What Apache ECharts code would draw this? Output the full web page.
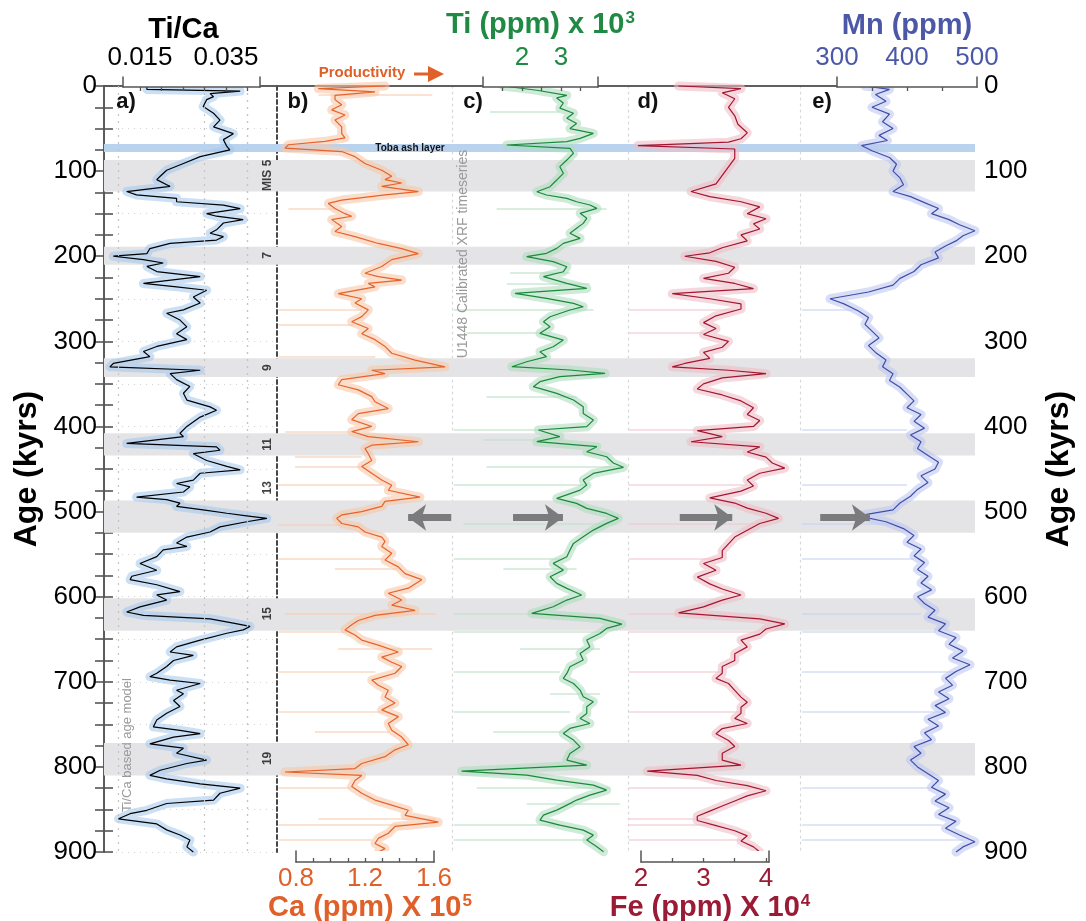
<!DOCTYPE html>
<html><head><meta charset="utf-8">
<script src="https://cdn.jsdelivr.net/npm/echarts@6/dist/echarts.min.js"></script>
<style>html,body{margin:0;padding:0;background:#fff}#c{width:1086px;height:921px}</style>
</head><body><div id="c"></div>
<script>
// ---------- DATA (age kyr, value) ----------
const tiCa = [[0,0.0166],[4,0.0166],[6,0.0383],[9,0.0313],[12.5,0.0321],[16,0.0305],[24,0.0297],[32,0.0321],[40,0.0336],[48,0.0321],[56,0.0367],[63,0.0344],[71,0.0352],[75,0.0359],[83,0.0290],[91,0.0251],[99,0.0212],[106,0.0197],[110,0.0189],[118,0.0220],[124,0.0119],[128,0.0142],[132,0.0235],[136,0.0235],[140,0.0344],[144,0.0383],[150,0.0305],[153,0.0328],[157,0.0390],[161,0.0344],[169,0.0328],[173,0.0313],[177,0.0344],[181,0.0328],[185,0.0220],[191,0.0173],[197,0.0166],[200,0.0088],[204,0.0158],[208,0.0204],[212,0.0166],[218,0.0189],[224,0.0290],[232,0.0158],[236,0.0235],[240,0.0305],[248,0.0274],[255,0.0290],[263,0.0251],[267,0.0212],[275,0.0243],[283,0.0259],[291,0.0235],[298,0.0259],[306,0.0189],[312,0.0158],[318,0.0173],[326,0.0088],[330,0.0080],[334,0.0290],[338,0.0220],[345,0.0235],[353,0.0266],[361,0.0251],[369,0.0259],[377,0.0313],[381,0.0328],[389,0.0290],[400,0.0259],[408,0.0243],[412,0.0251],[420,0.0119],[424,0.0328],[428,0.0336],[432,0.0274],[440,0.0305],[447,0.0352],[451,0.0383],[455,0.0290],[463,0.0274],[467,0.0235],[471,0.0266],[477,0.0251],[483,0.0142],[486,0.0212],[490,0.0243],[494,0.0235],[498,0.0297],[502,0.0352],[505,0.0398],[508,0.0445],[512,0.0398],[518,0.0336],[524,0.0313],[530,0.0259],[537,0.0235],[541,0.0259],[545,0.0204],[553,0.0189],[561,0.0150],[569,0.0189],[576,0.0131],[580,0.0127],[586,0.0189],[594,0.0243],[598,0.0189],[604,0.0212],[612,0.0150],[618,0.0119],[622,0.0158],[626,0.0313],[631,0.0367],[635,0.0406],[639,0.0390],[643,0.0352],[651,0.0290],[659,0.0235],[665,0.0220],[669,0.0274],[675,0.0228],[682,0.0212],[690,0.0189],[694,0.0173],[698,0.0220],[702,0.0290],[710,0.0235],[714,0.0251],[722,0.0228],[729,0.0243],[737,0.0212],[745,0.0189],[753,0.0181],[757,0.0243],[761,0.0290],[765,0.0228],[773,0.0173],[778,0.0251],[784,0.0235],[792,0.0305],[796,0.0259],[804,0.0197],[810,0.0173],[814,0.0212],[820,0.0290],[825,0.0383],[831,0.0336],[839,0.0321],[843,0.0212],[851,0.0166],[855,0.0127],[861,0.0100],[867,0.0189],[874,0.0212],[880,0.0243],[886,0.0266],[894,0.0259],[900,0.0274]];

const ca = [[0,1.316],[3,0.929],[7,1.258],[11,1.026],[16,1.026],[22,1.065],[28,1.007],[34,1.084],[40,1.026],[48,1.065],[56,1.065],[61,1.084],[65,0.968],[69,0.756],[73,0.736],[77,1.065],[83,1.142],[91,1.200],[99,1.297],[106,1.355],[110,1.316],[114,1.413],[118,1.297],[124,1.509],[128,1.316],[134,1.065],[138,0.987],[144,1.026],[150,1.084],[153,1.123],[157,1.007],[165,1.065],[171,1.026],[177,1.142],[185,1.277],[191,1.413],[197,1.509],[204,1.355],[212,1.297],[220,1.200],[224,1.277],[228,1.413],[232,1.219],[236,1.258],[244,1.045],[250,1.181],[255,1.142],[263,1.219],[271,1.181],[277,1.123],[285,1.219],[291,1.181],[298,1.258],[306,1.316],[314,1.355],[322,1.490],[330,1.664],[334,1.239],[338,1.316],[345,1.065],[351,1.045],[357,1.161],[365,1.239],[371,1.258],[379,1.335],[385,1.161],[392,1.123],[400,1.239],[406,1.123],[412,1.219],[418,1.509],[422,1.239],[426,1.200],[432,1.219],[440,1.239],[447,1.181],[455,1.239],[463,1.297],[469,1.355],[475,1.335],[483,1.519],[488,1.316],[494,1.297],[500,1.181],[504,1.065],[508,1.036],[514,1.065],[518,1.161],[524,1.200],[530,1.297],[535,1.316],[541,1.297],[549,1.355],[557,1.316],[565,1.393],[573,1.432],[580,1.529],[590,1.451],[596,1.335],[604,1.413],[610,1.355],[616,1.490],[622,1.258],[628,1.161],[633,1.123],[639,1.084],[645,1.142],[651,1.181],[657,1.277],[665,1.393],[671,1.297],[677,1.355],[682,1.413],[690,1.374],[698,1.239],[704,1.277],[710,1.335],[718,1.316],[725,1.374],[733,1.297],[741,1.393],[749,1.335],[757,1.355],[765,1.413],[774,1.451],[780,1.374],[788,1.316],[796,1.181],[802,1.142],[806,0.736],[810,1.181],[816,1.142],[823,1.123],[831,1.181],[839,1.258],[845,1.355],[851,1.451],[857,1.432],[865,1.625],[870,1.374],[878,1.335],[884,1.277],[890,1.258],[896,1.316],[900,1.277]];

const ti = [[0,1.52],[5,2.38],[11,3.15],[14,2.89],[20,3.06],[26,2.97],[32,3.32],[38,3.15],[44,3.40],[50,3.23],[55.6,3.83],[61.5,3.49],[65.4,3.15],[69.3,1.61],[73.2,3.23],[79,3.32],[87,3.15],[94.8,2.97],[102.6,3.06],[110.5,2.89],[118.3,2.72],[124.2,2.38],[128.1,2.63],[132,3.15],[136,3.40],[139.8,3.74],[143.8,3.92],[149.6,3.49],[155.5,3.66],[161.4,3.57],[167.2,3.40],[173,3.23],[179,3.49],[184.9,3.06],[190.8,2.89],[196.6,2.63],[200.5,2.12],[206.4,2.80],[212.3,3.15],[218.2,3.06],[224,2.55],[231.9,3.15],[237.8,3.66],[243.6,1.82],[249.5,2.63],[255.4,3.32],[259.3,3.57],[263.2,3.23],[271.1,2.72],[277,2.55],[282.8,2.72],[290.6,2.46],[298.5,3.06],[306.3,2.80],[312.2,2.46],[318,2.63],[324,2.12],[329.8,1.74],[333.7,3.23],[337.6,4.13],[341.5,2.97],[347.4,2.46],[353.3,2.29],[361.2,2.89],[369,3.32],[376.8,3.57],[384.7,3.57],[392.5,3.83],[400.3,3.66],[404.2,2.42],[412,2.97],[417.9,2.38],[423.8,3.92],[429.7,3.66],[435.6,4.17],[443,4.34],[448,4.60],[455.2,3.83],[463,3.57],[468.9,3.66],[474.8,3.49],[484.5,2.89],[490.4,3.40],[496.3,3.66],[502.2,4.17],[508,4.47],[513.9,4.17],[521.8,3.83],[529.6,3.57],[537.4,3.32],[545.3,3.23],[553.1,3.15],[560.9,2.80],[568.8,3.06],[576.6,2.72],[584.4,2.89],[590.3,3.15],[598.1,3.53],[604,3.15],[611.8,2.80],[619.7,2.25],[625.6,4.00],[632.2,4.56],[637.3,4.17],[643.2,4.00],[651,3.66],[658.9,3.74],[666.7,3.49],[674.5,3.57],[682.4,3.23],[690.2,3.15],[696.1,3.06],[702,3.32],[709.8,3.49],[717.6,3.57],[723.5,3.83],[729.4,3.66],[737.2,3.66],[743.1,3.49],[749,3.74],[754.8,3.23],[760.7,3.06],[768.5,3.32],[776.4,3.49],[784.2,3.23],[792,3.15],[797.9,3.66],[805,0.45],[809.7,2.12],[815.5,2.89],[821.4,3.83],[827.3,4.17],[833.2,3.74],[839,3.40],[844.9,3.15],[850.8,2.89],[856.7,2.55],[862.5,2.46],[868.4,2.97],[874.3,3.57],[880.2,3.83],[886,3.66],[893.9,3.92],[899.7,4.09]];

const fe = [[0,2.6],[3,3.6],[8,3.3],[15,3.5],[25,3.4],[35,3.5],[45,3.55],[55,3.7],[62,3.6],[66,3.4],[70,1.95],[74,3.5],[85,3.5],[95,3.4],[105,3.3],[115,3.2],[124,2.8],[130,3.1],[136,3.6],[142,3.9],[150,3.7],[156,4.0],[162,3.8],[168,3.9],[175,3.6],[182,3.7],[190,3.3],[196,3.1],[200,2.7],[206,3.2],[213,3.5],[220,3.4],[226,3.0],[232,3.5],[238,3.8],[244,2.5],[250,3.1],[256,3.6],[262,3.6],[270,3.2],[278,3.0],[285,3.2],[292,3.0],[300,3.4],[307,3.3],[313,3.0],[320,3.1],[326,2.7],[330,2.5],[334,3.4],[338,4.0],[343,3.3],[350,3.0],[356,2.9],[363,3.3],[370,3.6],[378,3.8],[386,3.7],[393,3.9],[400,3.8],[405,2.9],[412,3.3],[418,2.8],[424,3.9],[430,3.7],[436,4.0],[443,4.1],[449,4.3],[455,3.9],[463,3.7],[470,3.8],[476,3.6],[484,3.1],[490,3.5],[496,3.7],[502,4.0],[508,4.2],[514,3.9],[522,3.7],[530,3.5],[538,3.4],[546,3.3],[554,3.3],[561,3.0],[569,3.2],[577,2.9],[585,3.1],[591,3.3],[598,3.6],[604,3.3],[612,3.0],[619,2.6],[626,3.9],[632,4.3],[638,4.0],[644,3.9],[651,3.6],[659,3.7],[667,3.5],[675,3.5],[682,3.3],[690,3.3],[696,3.2],[702,3.4],[710,3.5],[718,3.6],[724,3.7],[730,3.6],[737,3.6],[743,3.5],[749,3.7],[755,3.3],[761,3.2],[769,3.4],[776,3.5],[784,3.3],[792,3.3],[798,3.6],[805,2.1],[810,2.9],[816,3.2],[822,3.7],[828,4.0],[834,3.7],[840,3.5],[846,3.3],[852,3.1],[858,2.9],[863,2.9],[869,3.2],[875,3.5],[881,3.7],[887,3.6],[894,3.8],[900,3.9]];

const mn = [[0,340],[4,375],[10,355],[18,370],[25,350],[33,375],[42,365],[50,380],[58,360],[64,372],[70,335],[76,350],[84,375],[92,385],[100,380],[108,390],[116,395],[124,380],[130,405],[137,425],[144,445],[150,435],[157,460],[163,475],[170,497],[176,480],[182,470],[188,455],[195,440],[202,445],[210,420],[218,410],[226,390],[234,380],[242,345],[250,290],[256,310],[264,330],[272,345],[280,340],[288,350],[296,360],[305,345],[313,355],[322,370],[330,365],[338,380],[346,375],[354,390],[362,400],[370,410],[378,400],[386,420],[394,410],[402,425],[410,405],[418,420],[426,415],[434,430],[442,445],[450,440],[458,420],[466,430],[474,415],[482,405],[490,390],[498,380],[505,330],[512,370],[520,395],[528,410],[536,400],[544,420],[552,410],[560,425],[568,415],[576,430],[584,420],[592,435],[600,415],[608,425],[616,440],[624,430],[632,455],[640,445],[648,470],[656,460],[664,480],[672,465],[680,490],[688,470],[696,455],[704,465],[712,445],[720,460],[728,440],[736,455],[744,430],[752,445],[760,425],[768,435],[776,410],[784,420],[792,405],[800,415],[808,430],[816,445],[824,435],[832,455],[840,440],[848,460],[856,445],[864,470],[872,455],[880,475],[888,497],[894,480],[900,470]];

// outlier spikes in the raw XRF data: [age, value from, value to]
const caSpikes = [[10.6,0.93,1.59],[144,0.756,1.03],[263,0.698,1.18],[281,0.698,1.14],[318,0.698,1.26],[406,0.736,1.14],[436,0.794,1.18],[447,0.794,1.22],[469,0.698,1.30],[516,0.698,1.065],[555,0.698,1.32],[567,1.026,1.41],[620,0.736,1.61],[641,0.698,1.12],[661,1.045,1.59],[688,0.698,1.26],[735,0.698,1.32],[759,0.91,1.34],[825,0.698,1.12],[861,0.93,1.61],[868,0.698,1.45],[886,0.698,1.24]];
const tiSpikes = [[30,1.18,2.97],[144,1.35,4.17],[220,1.69,3.23],[232,1.61,3.74],[263,0.25,3.83],[290,0.58,2.72],[365,1.09,3.40],[404,0.25,2.46],[416,1.01,3.06],[447,1.09,4.60],[469,0.25,3.66],[514,0.5,4.43],[555,0.25,2.97],[567,1.52,3.40],[620,0.25,2.29],[641,0.25,4.09],[661,1.95,4.0],[688,0.25,2.97],[714,2.72,4.0],[735,0.25,3.23],[759,1.26,3.23],[825,0.84,4.26],[843,2.12,4.51],[868,0.25,2.97],[886,0.25,3.83]];
const feSpikes = [[263,1.8,3.5],[290,1.8,3.0],[404,1.8,2.9],[469,1.8,3.7],[514,1.8,3.9],[555,1.8,3.3],[620,1.8,2.8],[641,1.8,3.9],[688,1.8,3.3],[735,1.8,3.6],[825,1.8,3.9],[861,1.8,3.1],[868,1.8,3.2],[886,1.8,3.6]];
const mnSpikes = [[263,250,330],[404,250,400],[469,250,400],[514,250,390],[555,250,410],[620,250,420],[641,250,440],[688,250,470],[735,250,450],[825,250,440],[868,250,450],[886,250,480]];

// interglacial bands (age from, to) and labels (text, age)
const misBands = [[87,124],[189,210],[320,342],[408,434],[487,525],[602,640],[772,810]];
const tobaBand = [68,77.5];
const misLabels = [['MIS 5',105],['7',199],['9',331],['11',421],['13',472],['15',620],['19',790]];

// tick labels
const tiCaTicks = [0.015,0.02,0.025,0.03,0.035,0.04], tiCaLabels = [0.015,0.035];
const tiTicks = [1.5,2,2.5,3,3.5], tiLabels = [2,3];
const mnTicks = [350,400,450], mnLabels = [300,400,500];
const caTicks = [0.9,1.0,1.1,1.2,1.3,1.4,1.5], caLabels = [0.8,1.2,1.6];
const feTicks = [2.5,3,3.5,4], feLabels = [2,3,4];
const ageLabelsStep = 100;

// arrows at ~507 kyr: [from, to] values per panel
const arrowAge = 507;
const caArrow = [1.70,1.45], tiArrow = [1.77,3.05], feArrow = [2.62,3.46], mnArrow = [276,347];

// ---------- LAYOUT ----------
const FONT = '"Liberation Sans", Arial, Helvetica, sans-serif';
const TOP = 86, BOT = 852, H = BOT - TOP, FL = 104, FR = 975;
const AX = '#555';
const LBL = 26;
function ext(v0, p0, k, l, r){ return [v0 + (l - p0)/k, v0 + (r - p0)/k]; }

const panels = [
  {l:104, r:277, v0:0.015, p0:140, k:4300, data:tiCa, line:'#000', env:'rgba(160,198,236,0.55)', div:{color:'#333', type:[4,3], width:1.8}},
  {l:277, r:452, v0:0.8, p0:296, k:172.5, data:ca, spikes:caSpikes, spk:'rgba(246,205,178,0.75)', line:'#e8622a', env:'rgba(246,200,168,0.6)', div:{color:'#d8d8d8', type:[2,4], width:1.2}, arrow:caArrow},
  {l:452, r:628, v0:1, p0:483, k:39, data:ti, spikes:tiSpikes, spk:'rgba(190,226,200,0.75)', line:'#1a8a3a', env:'rgba(175,220,190,0.6)', div:{color:'#d8d8d8', type:[2,4], width:1.2}, arrow:tiArrow},
  {l:628, r:800, v0:2, p0:641, k:62.5, data:fe, spikes:feSpikes, spk:'rgba(240,200,206,0.75)', line:'#a3162f', env:'rgba(238,190,198,0.6)', div:{color:'#d8d8d8', type:[2,4], width:1.2}, arrow:feArrow},
  {l:800, r:975, v0:300, p0:837, k:0.7, data:mn, spikes:mnSpikes, spk:'rgba(200,208,240,0.75)', line:'#3f4ea8', env:'rgba(190,200,240,0.6)', div:null, arrow:mnArrow}
];

const brackets = [
  {l:123, r:260, top:true, pi:0, ticks:tiCaTicks, labels:tiCaLabels, color:'#000', name:'{t|Ti/Ca}', namePad:[0,16,0,0], gap:27},
  {l:483, r:598, top:true, pi:2, ticks:tiTicks, labels:tiLabels, color:'#1f8a43', name:'{t|Ti (ppm) x 10}{s|3}', namePad:[0,0,0,0], gap:37},
  {l:837, r:977, top:true, pi:4, ticks:mnTicks, labels:mnLabels, color:'#4b58a8', name:'{t|Mn (ppm)}', namePad:[0,0,0,0], gap:37},
  {l:296, r:434, top:false, pi:1, ticks:caTicks, labels:caLabels, color:'#e0602a', name:'{t|Ca (ppm) X 10}{s|5}', namePad:[0,0,0,10], gap:28},
  {l:641, r:769, top:false, pi:3, ticks:feTicks, labels:feLabels, color:'#9b1b36', name:'{t|Fe (ppm) X 10}{s|4}', namePad:[0,0,0,10], gap:28}
];

const grid = [], xAxis = [], yAxis = [], series = [];
const base = {outerBoundsMode:'none', containLabel:false};

// frame grid 0
grid.push(Object.assign({left:FL, top:TOP, width:FR-FL, height:H}, base));
const hideAx = {axisTick:{show:false}, axisLabel:{show:false}, splitLine:{show:false}};
xAxis.push(Object.assign({gridIndex:0, type:'value', position:'top', min:0, max:1, axisLine:{show:true, lineStyle:{color:AX, width:1.5}}}, hideAx));
xAxis.push(Object.assign({gridIndex:0, type:'value', position:'bottom', min:0, max:1, axisLine:{show:true, lineStyle:{color:AX, width:1.5}}}, hideAx));
function ageAxis(pos){
  return {gridIndex:0, type:'value', position:pos, inverse:true, min:0, max:900, interval:25,
    axisLine:{show:true, lineStyle:{color:AX, width:1.6}},
    axisTick:{show:true, inside:true, length:9, lineStyle:{color:AX, width:1.6}},
    axisLabel:{formatter:v => (v % ageLabelsStep === 0 ? String(v) : ''), fontSize:LBL, color:'#000', fontFamily:FONT, margin: pos==='left'?7:9},
    splitLine:{show:false},
    name:'Age (kyrs)', nameLocation:'middle', nameRotate:90, nameGap: pos==='left'?58:68,
    nameTextStyle:{fontSize:32, fontWeight:'bold', color:'#000', fontFamily:FONT}};
}
yAxis.push(ageAxis('left'));
yAxis.push(ageAxis('right'));

// bands series on frame grid
series.push({type:'line', xAxisIndex:0, yAxisIndex:0, data:[[0.5,0]], symbol:'none', lineStyle:{opacity:0}, silent:true, z:1,
  markArea:{silent:true, itemStyle:{color:'#e4e4e6'},
    data: misBands.map(b => [{yAxis:b[0]}, {yAxis:b[1]}]).concat([[{yAxis:tobaBand[0], itemStyle:{color:'#b9d3ef'}}, {yAxis:tobaBand[1]}]])}
});

// panel grids
panels.forEach((p, i) => {
  const gi = grid.length;
  grid.push(Object.assign({left:p.l, top:TOP, width:p.r - p.l, height:H}, base));
  const [mn0, mx0] = ext(p.v0, p.p0, p.k, p.l, p.r);
  const xi = xAxis.length, yi = yAxis.length;
  xAxis.push(Object.assign({gridIndex:gi, type:'value', min:mn0, max:mx0, axisLine:{show:false}}, hideAx));
  const ya = Object.assign({gridIndex:gi, type:'value', inverse:true, min:0, max:900, position:'right',
    axisLine:{show: !!p.div, lineStyle: p.div || {}}}, hideAx);
  if (i === 0) { ya.interval = 50; ya.splitLine = {show:true, lineStyle:{color:'#d2d2d2', type:[1,5], width:1.2}}; }
  yAxis.push(ya);
  if (p.spikes) {
    series.push({type:'lines', coordinateSystem:'cartesian2d', xAxisIndex:xi, yAxisIndex:yi, silent:true, z:2,
      lineStyle:{color:p.spk, width:1.6, opacity:1},
      data: p.spikes.map(s => ({coords:[[s[1], s[0]], [s[2], s[0]]]}))});
  }
  const d = p.data.map(v => [v[1], v[0]]);
  const env = {type:'line', xAxisIndex:xi, yAxisIndex:yi, data:d, symbol:'none', clip:false, silent:true, z:3,
    lineStyle:{color:p.env, width:9, join:'round', cap:'round'}};
  if (i === 0) {
    env.markLine = {silent:true, symbol:'none', label:{show:false},
      lineStyle:{color:'#c4c4c4', type:[2,5], width:1.2},
      data:[0.015,0.025,0.035,0.044].map(v => ({xAxis:v}))};
  }
  series.push(env);
  const main = {type:'line', xAxisIndex:xi, yAxisIndex:yi, data:d, symbol:'none', clip:false, silent:true, z:4,
    lineStyle:{color:p.line, width:1.2}};
  if (p.arrow) {
    main.markLine = {silent:true, symbol:['none','arrow'], symbolSize:[20,18], label:{show:false},
      lineStyle:{color:'#7b7b7d', width:7, type:'solid'},
      data:[[{coord:[p.arrow[0], arrowAge]}, {coord:[p.arrow[1], arrowAge]}]]};
  }
  series.push(main);
  if (i === 0) {
    series.push({type:'scatter', xAxisIndex:xi, yAxisIndex:yi, symbolSize:0, silent:true, z:5,
      data: misLabels.map(m => ({name:m[0], value:[0.0448, m[1]]})),
      label:{show:true, position:'inside', formatter:'{b}', rotate:90, fontSize:12, fontWeight:'bold', color:'#111', fontFamily:FONT}});
  }
});

// bracket axes
brackets.forEach(b => {
  const p = panels[b.pi];
  const gi = grid.length;
  grid.push(Object.assign({left:b.l, top: b.top ? 77 : 851, width:b.r - b.l, height: b.top ? 10 : 11,
    show:true, backgroundColor:'#fff', borderWidth:0, z:6}, base));
  const [mn0, mx0] = ext(p.v0, p.p0, p.k, b.l, b.r);
  xAxis.push({gridIndex:gi, type:'value', position: b.top ? 'top' : 'bottom', min:mn0 - 1e-9, max:mx0 + 1e-9, z:7,
    axisLine:{show:true, lineStyle:{color:AX, width:1.5}},
    axisTick:{show:true, inside:true, length:4, customValues:b.ticks, lineStyle:{color:AX, width:1.3}},
    axisLabel:{show:true, customValues:b.labels, fontSize:LBL, color:b.color, fontFamily:FONT, margin: b.top ? 6 : 4,
      formatter: v => String(+v.toFixed(3))},
    splitLine:{show:false},
    name:b.name, nameLocation:'middle', nameGap: b.gap,
    nameTextStyle:{padding:b.namePad, rich:{
      t:{fontSize:29, fontWeight:'bold', color:b.color, fontFamily:FONT},
      s:{fontSize:17, fontWeight:'bold', color:b.color, fontFamily:FONT, verticalAlign:'top', padding:[0,0,13,1]}}}});
  ['left','right'].forEach(pos => yAxis.push(Object.assign({gridIndex:gi, type:'value', min:0, max:1, position:pos, z:7,
    axisLine:{show:true, lineStyle:{color:AX, width:1.5}}}, hideAx)));
});

// decorative texts
const T = (x, y, text, font, fill, rot, align) => ({type:'text', x, y, rotation: rot || 0, z:20, silent:true,
  style:{text, font, fill, align: align || 'center', verticalAlign:'middle'}});
const graphic = [
  T(126, 102, 'a)', 'bold 22px ' + FONT, '#111'),
  T(298, 102, 'b)', 'bold 22px ' + FONT, '#111'),
  T(473, 102, 'c)', 'bold 22px ' + FONT, '#111'),
  T(648, 102, 'd)', 'bold 22px ' + FONT, '#111'),
  T(822, 102, 'e)', 'bold 22px ' + FONT, '#111'),
  T(410, 148, 'Toba ash layer', 'bold 10px ' + FONT, '#111'),
  T(463, 254, 'U1448 Calibrated XRF timeseries', '14px ' + FONT, '#9a9a9a', Math.PI/2),
  T(127, 745, 'Ti/Ca based age model', '13px ' + FONT, '#9a9a9a', Math.PI/2),
  T(362, 73, 'Productivity', 'bold 15px ' + FONT, '#e0602a'),
  {type:'line', z:20, silent:true, shape:{x1:414, y1:74, x2:432, y2:74}, style:{stroke:'#e0602a', lineWidth:3}},
  {type:'polygon', z:20, silent:true, shape:{points:[[428,66],[444,74],[428,82]]}, style:{fill:'#e0602a'}}
];

const chart = echarts.init(document.getElementById('c'), null, {renderer:'canvas'});
chart.setOption({animation:false, backgroundColor:'#fff', textStyle:{fontFamily:FONT},
  grid, xAxis, yAxis, series, graphic});
</script></body></html>
